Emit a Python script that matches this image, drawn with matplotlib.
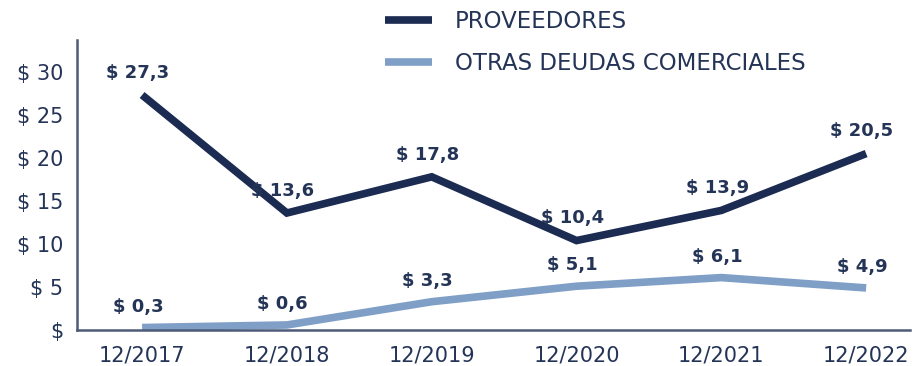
import matplotlib
matplotlib.use("Agg")
import matplotlib.pyplot as plt

# Data (millions of $)
periods = ["12/2017", "12/2018", "12/2019", "12/2020", "12/2021", "12/2022"]
proveedores = [27.3, 13.6, 17.8, 10.4, 13.9, 20.5]
otras_deudas = [0.3, 0.6, 3.3, 5.1, 6.1, 4.9]
series_names = ["PROVEEDORES", "OTRAS DEUDAS COMERCIALES"]
y_ticks = [0, 5, 10, 15, 20, 25, 30]

dark = "#1b2b51"
light = "#7f9fc6"
text_c = "#243457"
spine_c = "#4d5b78"

plt.rcParams["font.family"] = ["DejaVu Sans"]

fig = plt.figure(figsize=(9.16, 3.66), dpi=100)
ax = fig.add_axes([0.084, 0.098, 0.909, 0.793])

x = list(range(len(periods)))
l1, = ax.plot(x, proveedores, color=dark, lw=5.5, solid_capstyle="butt",
              solid_joinstyle="miter", label=series_names[0])
l2, = ax.plot(x, otras_deudas, color=light, lw=5.5, solid_capstyle="butt",
              solid_joinstyle="miter", label=series_names[1])

def fmt(v):
    return "$ " + f"{v:.1f}".replace(".", ",")

for xi, v in zip(x, proveedores):
    ax.annotate(fmt(v), (xi, v), xytext=(-3, 16), textcoords="offset points",
                ha="center", va="center", fontsize=13, fontweight="semibold",
                color=text_c)
for xi, v in zip(x, otras_deudas):
    ax.annotate(fmt(v), (xi, v), xytext=(-3, 15), textcoords="offset points",
                ha="center", va="center", fontsize=13, fontweight="semibold",
                color=text_c)

ax.set_xlim(-0.45, 5.3)
ax.set_ylim(0, 33.7)
ax.set_xticks(x)
ax.set_xticklabels(periods)
ax.set_yticks(y_ticks)
ax.set_yticklabels(["$" if t == 0 else f"$ {t}" for t in y_ticks])

ax.tick_params(axis="both", length=0, labelsize=15, colors=text_c)
ax.tick_params(axis="x", pad=11)
ax.tick_params(axis="y", pad=10)

for s in ["top", "right"]:
    ax.spines[s].set_visible(False)
for s in ["left", "bottom"]:
    ax.spines[s].set_color(spine_c)
    ax.spines[s].set_linewidth(1.8)

leg = fig.legend(handles=[l1, l2], loc="upper left",
                 bbox_to_anchor=(0.398, 1.03), frameon=False,
                 fontsize=16.5, handlelength=2.05, handletextpad=1.0,
                 labelspacing=0.85, labelcolor=text_c)

fig.savefig("out.png", dpi=100)
